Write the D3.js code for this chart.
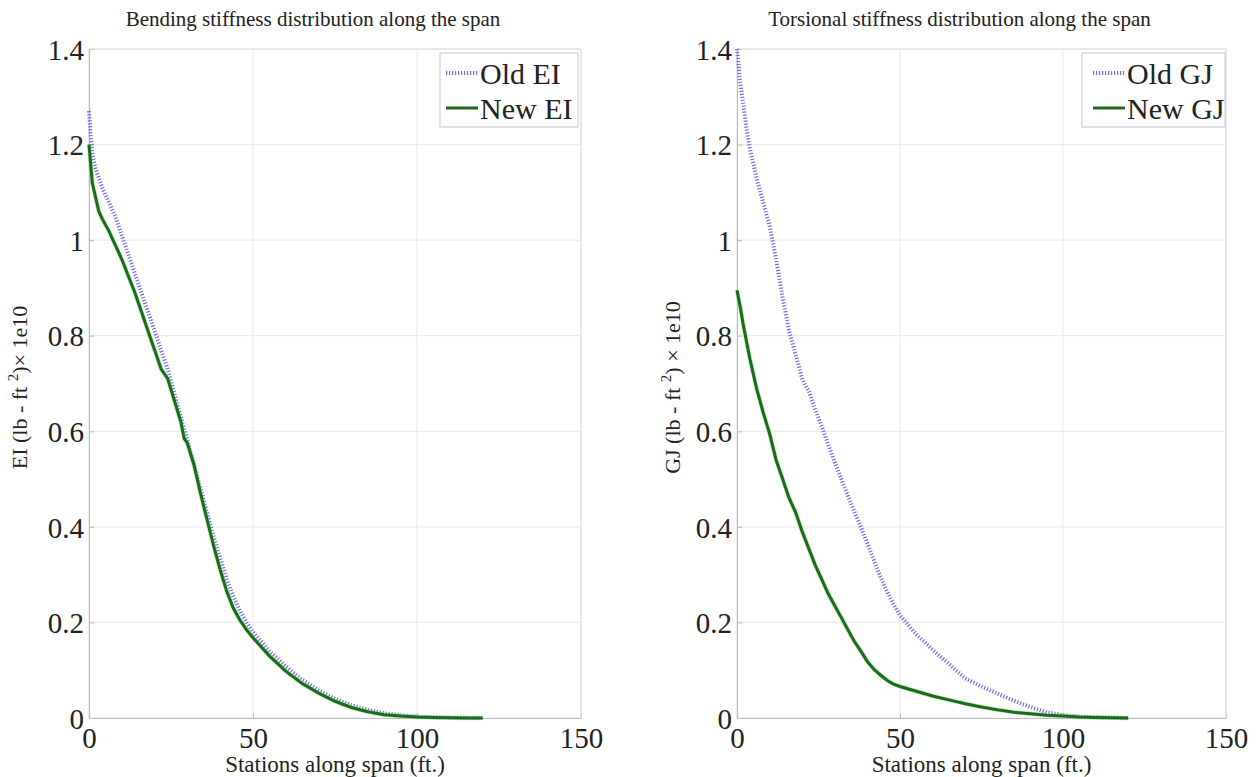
<!DOCTYPE html>
<html>
<head>
<meta charset="utf-8">
<script src="https://cdn.jsdelivr.net/npm/d3@7"></script>
<style>
html,body{margin:0;padding:0;background:#fff;}
svg{display:block;}
svg text{font-family:"Liberation Serif","Times New Roman",serif !important;}
</style>
</head>
<body>
<svg id="chart" width="1260" height="777"></svg>
<script>
// ---- data ----
const xTicks = [0, 50, 100, 150];
const yTicks = [0, 0.2, 0.4, 0.6, 0.8, 1, 1.2, 1.4];

const oldEIx = [0,0.5,1,2,4,6,8,10,12,14,16,18,20,22,24,26,28,30,32,34,36,38,40,42,44,46,48,50,55,60,65,70,75,80,85,90,95,100,105,110,115,120];
const oldEIy = [1.27,1.22,1.18,1.15,1.11,1.08,1.05,1.01,0.97,0.93,0.89,0.85,0.81,0.77,0.73,0.68,0.63,0.58,0.53,0.48,0.43,0.38,0.335,0.29,0.255,0.225,0.2,0.18,0.14,0.108,0.08,0.058,0.04,0.027,0.017,0.01,0.006,0.003,0.0015,0.0007,0.0003,0.0];

const newEIx = [0,0.5,1,2,3,4,6,8,10,12,14,16,18,20,22,24,26,28,29,30,32,34,36,38,40,42,44,46,48,50,55,60,65,70,75,80,85,90,95,100,105,110,115,120];
const newEIy = [1.20,1.16,1.12,1.09,1.06,1.045,1.02,0.99,0.96,0.925,0.89,0.85,0.81,0.77,0.73,0.71,0.665,0.62,0.585,0.575,0.53,0.47,0.415,0.36,0.31,0.265,0.23,0.205,0.185,0.168,0.13,0.098,0.072,0.052,0.035,0.022,0.013,0.007,0.004,0.002,0.001,0.0005,0.0002,0.0];

const oldGJx = [0,1,2,3,4,6,8,10,12,14,16,18,20,21,22,23,24,26,28,30,32,34,36,38,40,42,44,46,48,50,55,60,65,70,75,80,85,90,95,100,105,110,115,120];
const oldGJy = [1.40,1.33,1.28,1.23,1.19,1.13,1.08,1.03,0.96,0.88,0.81,0.76,0.71,0.695,0.685,0.665,0.645,0.61,0.572,0.535,0.5,0.465,0.432,0.4,0.365,0.33,0.295,0.265,0.238,0.215,0.175,0.143,0.113,0.083,0.066,0.051,0.036,0.023,0.012,0.006,0.003,0.0015,0.0006,0.0];

const newGJx = [0,1,2,3,4,5,6,8,10,12,14,16,18,20,22,24,26,28,30,32,34,36,38,40,42,44,46,48,50,55,60,65,70,75,80,85,90,95,100,105,110,115,120];
const newGJy = [0.895,0.86,0.82,0.785,0.75,0.72,0.69,0.64,0.595,0.54,0.5,0.46,0.43,0.39,0.355,0.32,0.29,0.26,0.235,0.21,0.185,0.16,0.14,0.118,0.102,0.09,0.079,0.071,0.066,0.056,0.046,0.038,0.03,0.023,0.017,0.012,0.009,0.006,0.004,0.002,0.001,0.0005,0.0];

const panels = [
  {title:"Bending stiffness distribution along the span", ylab:"EI", oldName:"Old EI", newName:"New EI",
   oldX:oldEIx, oldY:oldEIy, newX:newEIx, newY:newEIy, x0:89, x1:581, legX:440, legX1:578, ylabX:20},
  {title:"Torsional stiffness distribution along the span", ylab:"GJ", oldName:"Old GJ", newName:"New GJ",
   oldX:oldGJx, oldY:oldGJy, newX:newGJx, newY:newGJy, x0:737, x1:1226, legX:1082, legX1:1225, ylabX:673}
];

const svg = d3.select("#chart");
const yTop = 49, yBot = 718;
const oldColor = "#6f6fe0", newColor = "#1c6a1c";
const FONT = "Liberation Serif";

panels.forEach(p => {
  const x = d3.scaleLinear().domain([0,150]).range([p.x0, p.x1]);
  const y = d3.scaleLinear().domain([0,1.4]).range([yBot, yTop]);
  const g = svg.append("g");

  // grid
  g.selectAll(".gx").data(xTicks).enter().append("line")
    .attr("x1", d=>x(d)).attr("x2", d=>x(d)).attr("y1", yTop).attr("y2", yBot)
    .attr("stroke", "#ececec").attr("stroke-width", 1.2);
  g.selectAll(".gy").data(yTicks).enter().append("line")
    .attr("x1", p.x0).attr("x2", p.x1).attr("y1", d=>y(d)).attr("y2", d=>y(d))
    .attr("stroke", "#ececec").attr("stroke-width", 1.2);

  // axes
  const xAxis = d3.axisBottom(x).tickValues(xTicks).tickSizeInner(-5).tickSizeOuter(0).tickPadding(12).tickFormat(d3.format("d"));
  const yAxis = d3.axisLeft(y).tickValues(yTicks).tickSizeInner(-5).tickSizeOuter(0).tickPadding(5).tickFormat(d => d===0?"0":(Number.isInteger(d)?String(d):d.toFixed(1)));
  const gx = g.append("g").attr("transform", `translate(0,${yBot})`).call(xAxis);
  const gy = g.append("g").attr("transform", `translate(${p.x0},0)`).call(yAxis);
  [gx, gy].forEach(a => {
    a.attr("font-family", FONT);
    a.select(".domain").attr("stroke", "#bdbdbd").attr("stroke-width", 1.2);
    a.selectAll(".tick line").attr("stroke", "#bdbdbd");
    a.selectAll("text").style("font-family", FONT).attr("font-size", 29).attr("fill", "#222");
  });
  gx.selectAll("text").attr("dy", "0.62em");
  gy.selectAll("text").attr("dy", "0.35em");
  // top and right box lines (light)
  g.append("line").attr("x1", p.x0).attr("x2", p.x1).attr("y1", yTop).attr("y2", yTop).attr("stroke", "#dcdcdc");
  g.append("line").attr("x1", p.x1).attr("x2", p.x1).attr("y1", yTop).attr("y2", yBot).attr("stroke", "#dcdcdc");

  const line = d3.line().x(d=>x(d[0])).y(d=>y(d[1]));
  const oldPts = p.oldX.map((v,i)=>[v,p.oldY[i]]);
  const newPts = p.newX.map((v,i)=>[v,p.newY[i]]);

  g.append("path").attr("d", line(oldPts)).attr("fill","none")
    .attr("stroke", oldColor).attr("stroke-width", 4).attr("stroke-dasharray", "1.2,1.8");
  g.append("path").attr("d", line(newPts)).attr("fill","none")
    .attr("stroke", "#7ee07e").attr("stroke-width", 4.5).attr("stroke-opacity", 0.5);
  g.append("path").attr("d", line(newPts)).attr("fill","none")
    .attr("stroke", newColor).attr("stroke-width", 3);

  // title
  g.append("text").attr("x", (p.x0+p.x1)/2 - 22).attr("y", 26).attr("text-anchor","middle")
    .style("font-family", FONT).attr("font-size", 21).attr("fill", "#222").text(p.title);
  // x label
  g.append("text").attr("x", (p.x0+p.x1)/2).attr("y", 772).attr("text-anchor","middle")
    .style("font-family", FONT).attr("font-size", 23).attr("fill", "#222").text("Stations along span (ft.)");
  // y label
  const yl = g.append("text").attr("transform", `translate(${p.ylabX + 7},${(yTop+yBot)/2 + 4}) rotate(-90)`)
    .attr("text-anchor","middle").style("font-family", FONT).attr("font-size", 22).attr("fill", "#222");
  yl.append("tspan").text(p.ylab + " (lb - ft ");
  yl.append("tspan").attr("dy", -9).attr("font-size", 15).text("2");
  yl.append("tspan").attr("dy", 9).text(p.ylab === "EI" ? ")× 1e10" : ") × 1e10");

  // legend
  const lg = g.append("g");
  lg.append("rect").attr("x", p.legX).attr("y", 53).attr("width", p.legX1 - p.legX).attr("height", 74)
    .attr("fill", "#fff").attr("stroke", "#c8c8c8").attr("stroke-width", 1);
  const items = [{name:p.oldName, old:true, yy:73},{name:p.newName, old:false, yy:108}];
  items.forEach(it => {
    const tx = p.legX1 - 98;
    if (it.old) {
      lg.append("line").attr("x1", tx - 34).attr("x2", tx - 2).attr("y1", it.yy).attr("y2", it.yy)
        .attr("stroke", oldColor).attr("stroke-width", 4).attr("stroke-dasharray","1.2,1.8");
    } else {
      lg.append("line").attr("x1", tx - 34).attr("x2", tx - 2).attr("y1", it.yy).attr("y2", it.yy)
        .attr("stroke", newColor).attr("stroke-width", 3);
    }
    lg.append("text").attr("x", tx).attr("y", it.yy).attr("dy","0.35em")
      .style("font-family", FONT).attr("font-size", 30).attr("fill", "#222").text(it.name);
  });
});
</script>
</body>
</html>
